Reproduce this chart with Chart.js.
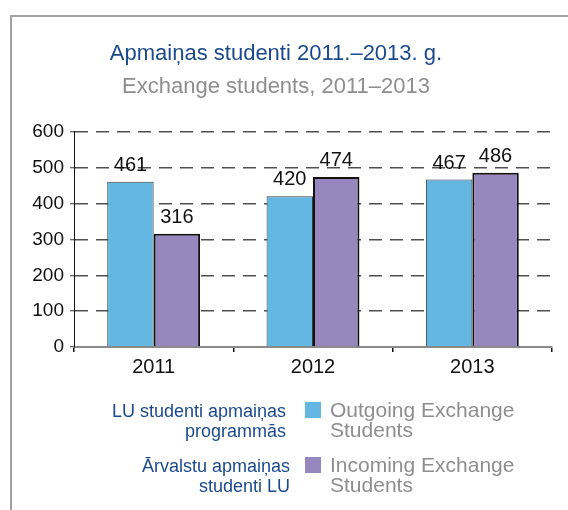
<!DOCTYPE html>
<html>
<head>
<meta charset="utf-8">
<script src="https://cdn.jsdelivr.net/npm/chart.js@4/dist/chart.umd.min.js"></script>
<style>
  html, body { margin: 0; padding: 0; background: #fff; }
  #wrap { position: relative; width: 568px; height: 510px; }
  #frame { position: absolute; left: 10px; top: 15px; width: 560px; height: 500px;
           border-left: 2px solid #a2a2a2; border-top: 2px solid #a2a2a2; }
  canvas { position: absolute; left: 0; top: 0; }
</style>
</head>
<body>
<div id="wrap">
  <div id="frame"></div>
  <canvas id="c" width="568" height="510"></canvas>
</div>
<script>
const categories = ['2011', '2012', '2013'];
const outgoing = [461, 420, 467];
const incoming = [316, 474, 486];
const yTicks = [0, 100, 200, 300, 400, 500, 600];
const titleLV = 'Apmaiņas studenti 2011.–2013. g.';
const titleEN = 'Exchange students, 2011–2013';
const seriesLV = [['LU studenti apmaiņas', 'programmās'], ['Ārvalstu apmaiņas', 'studenti LU']];
const seriesEN = [['Outgoing Exchange', 'Students'], ['Incoming Exchange', 'Students']];

const FONT = '"Liberation Sans", Arial, sans-serif';

const valueLabels = {
  id: 'valueLabels',
  afterDatasetsDraw(chart) {
    const ctx = chart.ctx;
    ctx.save();
    ctx.font = '20px ' + FONT;
    ctx.fillStyle = '#111';
    ctx.textAlign = 'center';
    ctx.textBaseline = 'alphabetic';
    chart.data.datasets.forEach((ds, di) => {
      chart.getDatasetMeta(di).data.forEach((bar, i) => {
        ctx.fillText(String(ds.data[i]), bar.x, bar.y - 11);
      });
    });
    ctx.restore();
  }
};

const customLegend = {
  id: 'customLegend',
  afterDraw(chart) {
    const ctx = chart.ctx;
    const rightLV = [286, 290], boxX = 305, box = 16, textX = 330;
    const baseY = [417, 472];
    const lineH = 20;
    ctx.save();
    chart.data.datasets.forEach((ds, di) => {
      const y0 = baseY[di];
      ctx.fillStyle = ds.backgroundColor;
      ctx.fillRect(boxX, y0 - 15, box, box);
      ctx.textBaseline = 'alphabetic';
      ctx.font = '18px ' + FONT;
      ctx.fillStyle = '#1b4a8c';
      ctx.textAlign = 'right';
      seriesLV[di].forEach((t, li) => ctx.fillText(t, rightLV[di], y0 + li * lineH));
      ctx.font = '21px ' + FONT;
      ctx.fillStyle = '#8e8e8e';
      ctx.textAlign = 'left';
      seriesEN[di].forEach((t, li) => ctx.fillText(t, textX, y0 + li * lineH));
    });
    ctx.restore();
  }
};

new Chart(document.getElementById('c'), {
  type: 'bar',
  data: {
    labels: categories,
    datasets: [
      { label: seriesEN[0].join(' '), data: outgoing, backgroundColor: '#63b7e1',
        borderColor: '#3c3c3c', borderWidth: 1, barPercentage: 1, categoryPercentage: 0.583 },
      { label: seriesEN[1].join(' '), data: incoming, backgroundColor: '#9687bf',
        borderColor: '#111', borderWidth: 2, barPercentage: 1, categoryPercentage: 0.583 }
    ]
  },
  options: {
    responsive: false,
    animation: false,
    layout: { padding: { left: 0, right: 16, top: 33, bottom: 128 } },
    plugins: {
      legend: { display: false },
      tooltip: { enabled: false },
      title: { display: true, text: titleLV, color: '#1b4a8c',
               font: { family: FONT, size: 22, weight: 'normal' }, padding: { top: 8, bottom: 2 } },
      subtitle: { display: true, text: titleEN, color: '#8e8e8e',
               font: { family: FONT, size: 22, weight: 'normal' }, padding: { top: 4, bottom: 32 } }
    },
    scales: {
      x: {
        offset: true,
        grid: { offset: true, drawOnChartArea: false, drawTicks: true, tickLength: 5, tickColor: '#111', lineWidth: 1.5 },
        border: { color: '#8a8a8a', width: 2 },
        ticks: { color: '#111', font: { family: FONT, size: 20 }, padding: 3 }
      },
      y: {
        min: 0, max: 600,
        afterBuildTicks(scale) { scale.ticks = yTicks.map(v => ({ value: v })); },
        afterFit(scale) { scale.width = 74; },
        grid: { color: '#505050', lineWidth: 1.5, tickLength: 4,
                tickBorderDash: [], tickColor: '#333', tickWidth: 1 },
        border: { color: '#111', width: 1, dash: [13, 8] },
        ticks: { color: '#111', font: { family: FONT, size: 19 }, padding: 6 }
      }
    }
  },
  plugins: [valueLabels, customLegend]
});
</script>
</body>
</html>
